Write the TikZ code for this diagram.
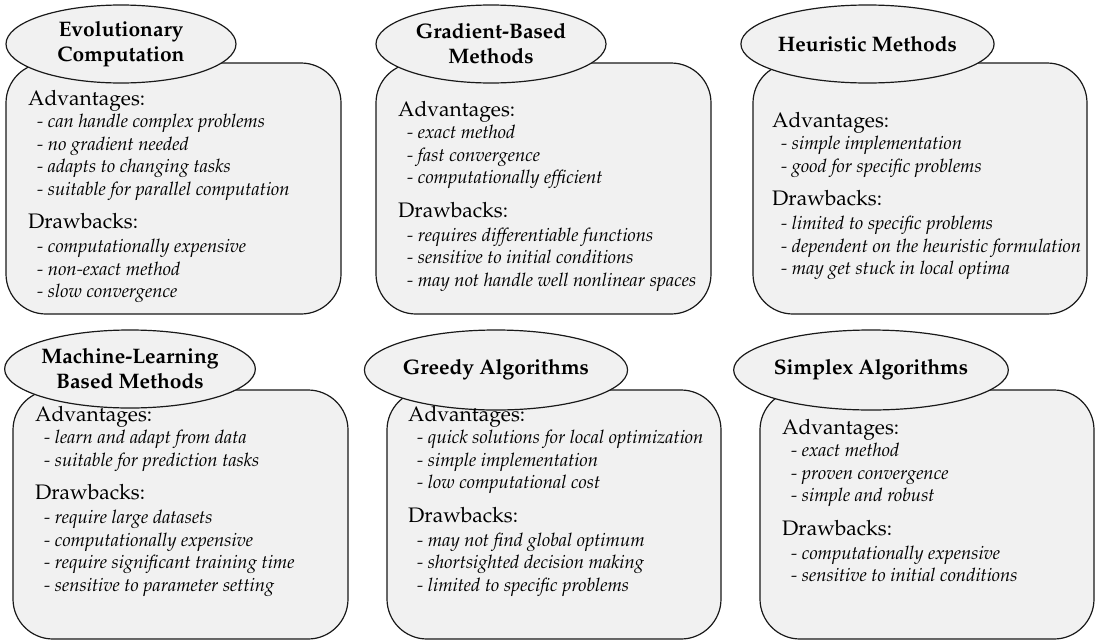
\documentclass[tikz,border=0pt]{standalone}
\usepackage[T1]{fontenc}
\usepackage{mathpazo}
\usetikzlibrary{shapes.geometric}

\definecolor{panelfill}{RGB}{241,241,241}
\definecolor{inkline}{RGB}{25,25,25}

% one heading line and one bullet line of a pros/cons list
\newcommand{\pchead}[1]{\hbox{\fontsize{21}{22.5}\selectfont #1}}
\newcommand{\pcitem}[1]{\hbox{\hskip9pt\fontsize{18.5}{22.5}\selectfont\itshape - #1}}
% full list: advantages in #1, drawbacks in #2; baseline = first line
\newcommand{\pclist}[2]{\vtop{\baselineskip=22.5pt\lineskiplimit=0pt\lineskip=1pt
  \pchead{Advantages:}#1\vskip11pt\pchead{Drawbacks:}\vskip1.5pt#2}}

\tikzset{
  panel/.style={draw=inkline, line width=1.2pt, fill=panelfill,
    rounded corners=40pt, rectangle, inner sep=0pt},
  titleoval/.style={draw=inkline, line width=1.2pt, fill=panelfill,
    ellipse, inner sep=0pt, align=center,
    font=\fontsize{21}{25}\selectfont\bfseries},
  listtext/.style={anchor=base west, inner sep=0pt},
}

\begin{document}
\begin{tikzpicture}[x=1pt, y=-1pt]
\useasboundingbox (0,0) rectangle (1095,640);

% ---- panels ----
\node[panel, minimum width=335pt, minimum height=251pt] (p1) at (173.5,188.5) {};
\node[panel, minimum width=335pt, minimum height=251pt] (p2) at (543.5,188.5) {};
\node[panel, minimum width=334pt, minimum height=251pt] (p3) at (920,188.5) {};
\node[panel, minimum width=335pt, minimum height=249pt] (p4) at (180.5,514.5) {};
\node[panel, minimum width=334pt, minimum height=249pt] (p5) at (554,514.5) {};
\node[panel, minimum width=334pt, minimum height=249pt] (p6) at (927,514.5) {};

% ---- titles ----
\node[titleoval, minimum width=230pt, minimum height=78pt] (e1) at (121,44) {Evolutionary\\Computation};
\node[titleoval, minimum width=230pt, minimum height=78pt] (e2) at (491,44) {Gradient-Based\\Methods};
\node[titleoval, minimum width=229pt, minimum height=78pt] (e3) at (867.5,44) {Heuristic Methods};
\node[titleoval, minimum width=230pt, minimum height=78pt] (e4) at (130,369) {Machine-Learning\\Based Methods};
\node[titleoval, minimum width=218pt, minimum height=80pt] (e5) at (496,370) {Greedy Algorithms};
\node[titleoval, minimum width=218pt, minimum height=80pt] (e6) at (871,370) {Simplex Algorithms};

% ---- lists ----
\node[listtext] (l1) at (28,105) {\pclist
  {\pcitem{can handle complex problems}\pcitem{no gradient needed}
   \pcitem{adapts to changing tasks}\pcitem{suitable for parallel computation}}
  {\pcitem{computationally expensive}\pcitem{non-exact method}\pcitem{slow convergence}}};

\node[listtext] (l2) at (398,116) {\pclist
  {\pcitem{exact method}\pcitem{fast convergence}\pcitem{computationally efficient}}
  {\pcitem{requires differentiable functions}\pcitem{sensitive to initial conditions}
   \pcitem{may not handle well nonlinear spaces}}};

\node[listtext] (l3) at (772,127) {\pclist
  {\pcitem{simple implementation}\pcitem{good for specific problems}}
  {\pcitem{limited to specific problems}\pcitem{dependent on the heuristic formulation}
   \pcitem{may get stuck in local optima}}};

\node[listtext] (l4) at (35,421) {\pclist
  {\pcitem{learn and adapt from data}\pcitem{suitable for prediction tasks}}
  {\pcitem{require large datasets}\pcitem{computationally expensive}
   \pcitem{require significant training time}\pcitem{sensitive to parameter setting}}};

\node[listtext] (l5) at (408,421) {\pclist
  {\pcitem{quick solutions for local optimization}\pcitem{simple implementation}
   \pcitem{low computational cost}}
  {\pcitem{may not find global optimum}\pcitem{shortsighted decision making}
   \pcitem{limited to specific problems}}};

\node[listtext] (l6) at (782,434) {\pclist
  {\pcitem{exact method}\pcitem{proven convergence}\pcitem{simple and robust}}
  {\pcitem{computationally expensive}\pcitem{sensitive to initial conditions}}};
\end{tikzpicture}
\end{document}
